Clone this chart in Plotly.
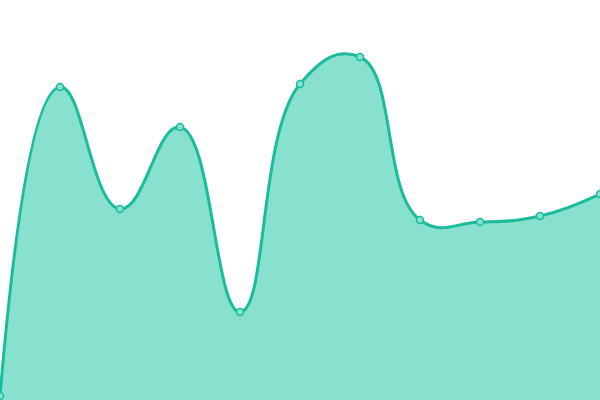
import plotly.graph_objects as go

x_vals = [0, 1, 2, 3, 4, 5, 6, 7, 8, 9, 10]
y_vals = [4, 313, 191, 273, 88, 316, 343, 180, 178, 184, 206]

fig = go.Figure()
fig.add_trace(go.Scatter(
    x=x_vals, y=y_vals,
    mode="lines+markers",
    line=dict(color="#1abc9c", width=3, shape="spline", smoothing=1.3),
    fill="tozeroy",
    fillcolor="#88e0cf",
    marker=dict(size=7, color="#88e0cf", line=dict(color="#1abc9c", width=1.5)),
    cliponaxis=False,
    hoverinfo="skip",
))
fig.update_layout(
    width=600, height=400,
    margin=dict(l=0, r=0, t=0, b=0),
    paper_bgcolor="white", plot_bgcolor="white",
    showlegend=False,
    xaxis=dict(range=[0, 10], visible=False, showgrid=False, zeroline=False),
    yaxis=dict(range=[0, 400], visible=False, showgrid=False, zeroline=False),
)
fig.write_html("out.html", config={"displayModeBar": False},
               post_script="document.body.style.margin='0';document.body.style.overflow='hidden';")
